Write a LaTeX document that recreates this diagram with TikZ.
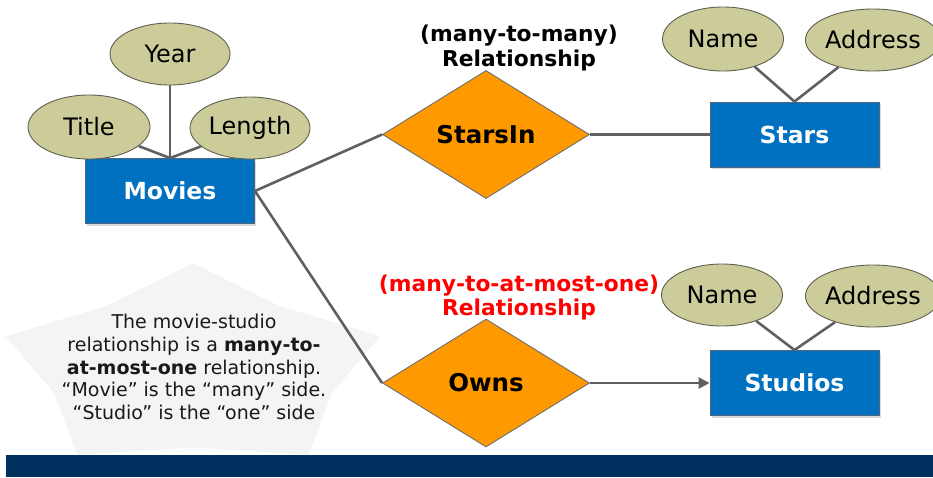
\documentclass[tikz,border=0pt]{standalone}
\usepackage{fontspec}
\setmainfont{DejaVu Sans}
\usetikzlibrary{shapes.geometric,arrows.meta,shadows}

\definecolor{attrfill}{RGB}{204,204,155}
\definecolor{attrline}{RGB}{95,95,80}
\definecolor{entfill}{RGB}{0,112,192}
\definecolor{entline}{RGB}{80,100,120}
\definecolor{relfill}{RGB}{255,153,0}
\definecolor{relline}{RGB}{110,110,110}
\definecolor{linkgray}{RGB}{96,96,96}
\definecolor{notefill}{RGB}{244,244,244}
\definecolor{bandblue}{RGB}{0,48,94}
\definecolor{notetext}{RGB}{25,25,25}

\tikzset{
  attr/.style={ellipse, draw=attrline, line width=0.9pt, fill=attrfill,
    inner sep=0pt, minimum width=121pt, minimum height=62pt,
    font=\fontsize{24}{27}\selectfont, text=black},
  entity/.style={rectangle, draw=entline, line width=0.9pt, fill=entfill,
    inner sep=0pt, minimum width=169pt, minimum height=65pt,
    font=\fontsize{23.5}{26}\selectfont\bfseries, text=white,
    drop shadow={opacity=0.3, shadow xshift=1.5pt, shadow yshift=-2pt}},
  relation/.style={diamond, draw=relline, line width=0.9pt, fill=relfill,
    inner sep=0pt, aspect=1.62, minimum width=207pt, minimum height=128pt,
    font=\fontsize{24.5}{27}\selectfont\bfseries, text=black},
  link/.style={draw=linkgray, line width=2.6pt},
  caption/.style={align=center, inner sep=0pt,
    font=\fontsize{21.8}{24.5}\selectfont\bfseries},
}

\begin{document}
\begin{tikzpicture}[x=1pt, y=-1pt]
  \useasboundingbox (0,0) rectangle (933,477);
  \clip (0,0) rectangle (933,477);

  % note shape behind the explanatory text
  \fill[notefill] (193,263) -- (278.7,305.6) -- (380.4,336.2) -- (331.7,393.2)
    -- (308.8,454.8) -- (193,447.4) -- (77.2,454.8) -- (54.3,393.2)
    -- (5.6,336.2) -- (107.3,305.6) -- cycle;

  % footer band
  \fill[bandblue] (6,455) rectangle (933,477);

  % entities
  \node[entity] (movies)  at (170,191) {Movies};
  \node[entity] (stars)   at (794.5,134.5) {Stars};
  \node[entity] (studios) at (794.5,383) {Studios};

  % relationships
  \node[relation] (starsin) at (486,134.5) {StarsIn};
  \node[relation] (owns)    at (486,383) {Owns};

  % attributes
  \node[attr, minimum width=120pt] (year)   at (170,54)  {Year};
  \node[attr, minimum width=122pt, minimum height=64pt] (title) at (89,127) {Title};
  \node[attr, minimum width=120pt] (length) at (250,128) {Length};
  \node[attr, minimum height=64pt] (sname)  at (723,39)  {Name};
  \node[attr, minimum width=134pt] (saddr)  at (873,40)  {Address};
  \node[attr] (dname)  at (722,295) {Name};
  \node[attr, minimum width=134pt] (daddr)  at (873,296) {Address};

  % attribute links
  \draw[link] (year)   -- (movies.north);
  \draw[link] (title)  -- (movies.north);
  \draw[link] (length) -- (movies.north);
  \draw[link] (sname)  -- (stars.north);
  \draw[link] (saddr)  -- (stars.north);
  \draw[link] (dname)  -- (studios.north);
  \draw[link] (daddr)  -- (studios.north);

  % relationship links
  \draw[link] (movies.east)  -- (starsin.west);
  \draw[link] (starsin.east) -- (stars.west);
  \draw[link] (movies.east)  -- (owns.west);
  \draw[link, -{Triangle[length=11pt,width=11pt]}] (owns.east) -- (studios.west);

  % relationship captions
  \node[caption, text=black] (mm) at (519,48)
    {(many-to-many)\\Relationship};
  \node[caption, text=red] (mo) at (519,297.5)
    {(many-to-at-most-one)\\Relationship};

  % explanatory note
  \node[align=center, inner sep=0pt, text=notetext,
    font=\fontsize{19}{22.7}\selectfont] (note) at (194,367)
    {The movie-studio\\
     relationship is a \textbf{many-to-}\\
     \textbf{at-most-one} relationship.\\
     “Movie” is the “many” side.\\
     “Studio” is the “one” side};
\end{tikzpicture}
\end{document}
